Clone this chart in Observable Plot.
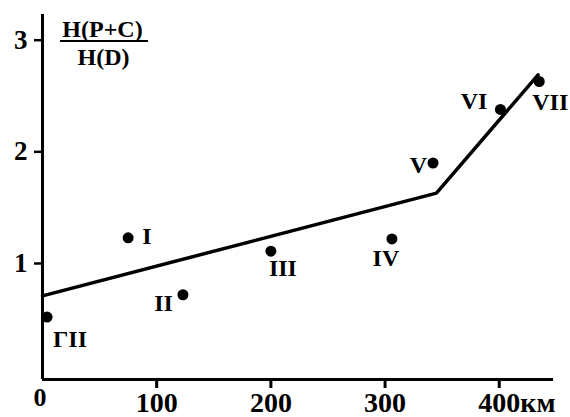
<!DOCTYPE html>
<html>
<head>
<meta charset="utf-8">
<script src="https://cdn.jsdelivr.net/npm/d3@7"></script>
<script src="https://cdn.jsdelivr.net/npm/@observablehq/plot@0.6"></script>
<style>
  html, body { margin: 0; padding: 0; background: #fff; }
</style>
</head>
<body>
<div id="chart"></div>
<script>
// ---- data ----
const names    = ["ГII", "I", "II", "III", "IV", "V", "VI", "VII"];
const distance = [4, 75, 123, 200, 306, 342, 401, 435];      // km
const ratio    = [0.52, 1.23, 0.72, 1.11, 1.22, 1.90, 2.38, 2.63]; // H(P+C)/H(D)
const fitDistance = [0, 345, 434];
const fitRatio    = [0.71, 1.63, 2.69];
const xTicks = [100, 200, 300, 400];
const yTicks = [1, 2, 3];
const xUnit = "км";
const originLabel = "0";
const yLabelTop = "H(P+C)";
const yLabelBottom = "H(D)";

// ---- tables built from the arrays ----
const points = names.map((name, i) => ({name, x: distance[i], y: ratio[i]}));
const fit = fitDistance.map((x, i) => ({x, y: fitRatio[i]}));

// label placement per point (pixel offsets)
const placement = {
  "ГII": {textAnchor: "start",  dx: 6,   dy: 22},
  "I":   {textAnchor: "start",  dx: 14,  dy: -1},
  "II":  {textAnchor: "end",    dx: -10, dy: 9},
  "III": {textAnchor: "start",  dx: -2,  dy: 17},
  "IV":  {textAnchor: "middle", dx: -6,  dy: 19},
  "V":   {textAnchor: "end",    dx: -6,  dy: 2},
  "VI":  {textAnchor: "end",    dx: -13, dy: -8},
  "VII": {textAnchor: "start",  dx: -7,  dy: 21}
};

const font = "'Liberation Serif', 'Times New Roman', serif";
const xDomain = [0, 447.5];
const yDomain = [-0.039, 3.23];

const labelMarks = names.map(n => Plot.text(points.filter(d => d.name === n), {
  x: "x", y: "y", text: "name",
  lineAnchor: "middle",
  fontSize: 24, fontWeight: "bold", fill: "black",
  ...placement[n]
}));

const fractionBar = (index, scales, values, dimensions) => {
  const g = d3.create("svg:line")
    .attr("x1", dimensions.marginLeft + 18)
    .attr("x2", dimensions.marginLeft + 106)
    .attr("y1", dimensions.marginTop + 27)
    .attr("y2", dimensions.marginTop + 27)
    .attr("stroke", "black")
    .attr("stroke-width", 2);
  return g.node();
};

const chart = Plot.plot({
  width: 570,
  height: 417,
  marginLeft: 42,
  marginTop: 14,
  marginBottom: 38,
  marginRight: 17,
  style: {fontFamily: font, background: "white", color: "black", overflow: "visible"},
  x: {domain: xDomain},
  y: {domain: yDomain},
  marks: [
    Plot.axisX({ticks: xTicks, tickFormat: d => String(d), tickSize: 9, tickPadding: 4, strokeWidth: 3,
      fontSize: 28, fontWeight: "bold", label: null}),
    Plot.axisY({ticks: yTicks, tickFormat: d => String(d), tickSize: 8, tickPadding: 7, strokeWidth: 2.5,
      fontSize: 27, fontWeight: "bold", label: null}),
    Plot.ruleX([xDomain[0]], {strokeWidth: 3}),
    Plot.ruleY([yDomain[0]], {strokeWidth: 3}),
    Plot.line(fit, {x: "x", y: "y", strokeWidth: 3.5, stroke: "black", strokeLinejoin: "miter"}),
    Plot.dot(points, {x: "x", y: "y", r: 5.5, fill: "black", stroke: null}),
    ...labelMarks,
    Plot.text([originLabel], {frameAnchor: "bottom-left", text: d => d, dx: -9, dy: 18,
      lineAnchor: "middle", fontSize: 26, fontWeight: "bold"}),
    Plot.text([400], {x: d => d, frameAnchor: "bottom", text: () => xUnit, textAnchor: "start",
      lineAnchor: "top", dx: 21, dy: 13, fontSize: 28, fontWeight: "bold"}),
    Plot.text([yLabelTop], {frameAnchor: "top-left", text: d => d, dx: 60, dy: 15,
      lineAnchor: "middle", textAnchor: "middle", fontSize: 24, fontWeight: "bold"}),
    Plot.text([yLabelBottom], {frameAnchor: "top-left", text: d => d, dx: 61, dy: 43,
      lineAnchor: "middle", textAnchor: "middle", fontSize: 24, fontWeight: "bold"}),
    fractionBar
  ]
});

document.getElementById("chart").appendChild(chart);
</script>
</body>
</html>
